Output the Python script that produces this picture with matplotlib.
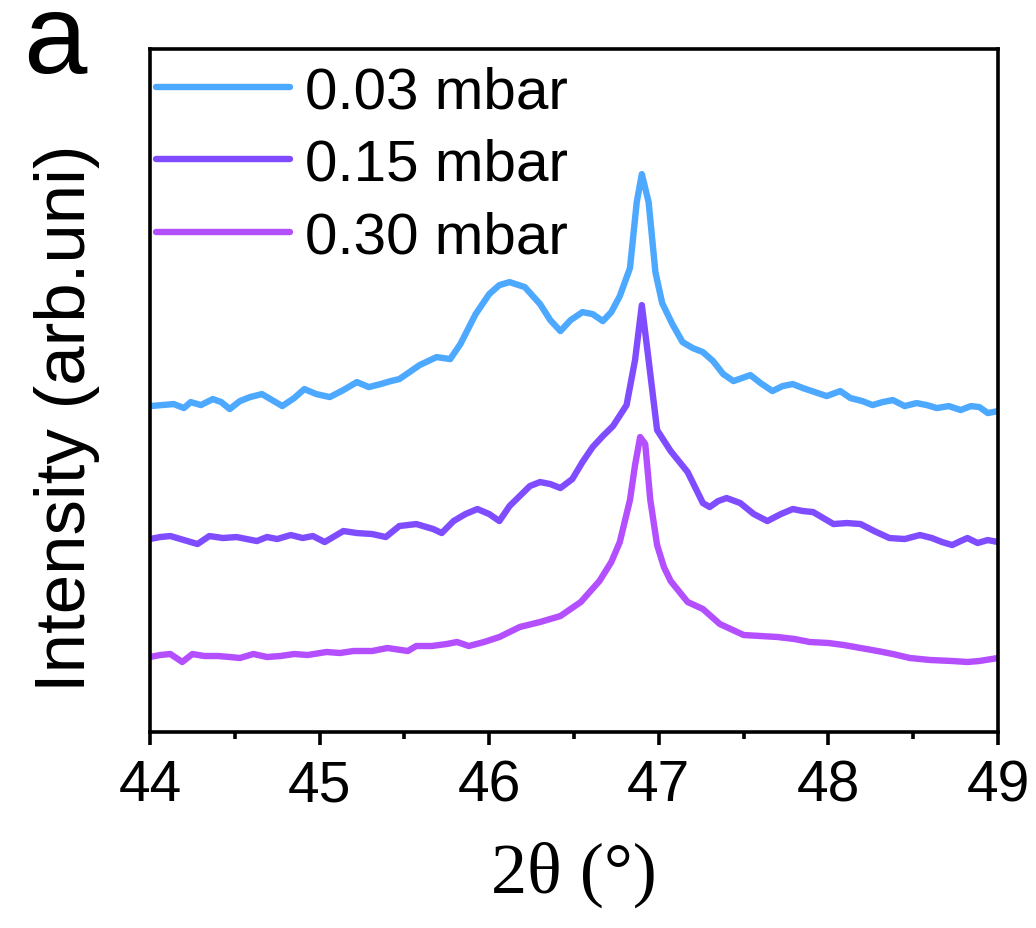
import numpy as np
import matplotlib
matplotlib.use('Agg')
import matplotlib.pyplot as plt
from matplotlib.ticker import MultipleLocator

# 2theta (deg) e intensidad (u.a.)
x_003 = [44.00, 44.07, 44.14, 44.20, 44.24, 44.30, 44.37, 44.42, 44.47, 44.53, 44.59, 44.66, 44.72, 44.78,
         44.85, 44.91, 44.98, 45.06, 45.14, 45.22, 45.29, 45.36, 45.42, 45.47, 45.53, 45.59, 45.69, 45.77,
         45.83, 45.92, 46.00, 46.06, 46.12, 46.21, 46.30, 46.36, 46.42, 46.48, 46.55, 46.61, 46.67, 46.72,
         46.77, 46.83, 46.87, 46.90, 46.94, 46.98, 47.02, 47.08, 47.14, 47.20, 47.26, 47.32, 47.38, 47.44,
         47.54, 47.60, 47.67, 47.73, 47.79, 47.85, 47.92, 47.99, 48.07, 48.13, 48.20, 48.26, 48.32, 48.38,
         48.45, 48.52, 48.58, 48.64, 48.71, 48.78, 48.84, 48.89, 48.94, 49.00]
y_003 = [326, 327, 328, 324, 330, 327, 333, 330, 323, 331, 335, 338, 332, 326,
         334, 343, 338, 335, 342, 350, 345, 348, 351, 353, 360, 367, 375, 373,
         388, 418, 438, 447, 450, 445, 428, 412, 401, 412, 420, 418, 411, 420,
         436, 464, 530, 558, 530, 460, 429, 408, 390, 384, 380, 371, 358, 351,
         357, 349, 341, 346, 348, 344, 340, 336, 341, 334, 331, 327, 330, 332,
         326, 329, 327, 324, 326, 322, 326, 325, 319, 321]

x_015 = [44.00, 44.06, 44.12, 44.20, 44.28, 44.35, 44.43, 44.51, 44.57, 44.63, 44.69, 44.75, 44.83, 44.90,
         44.96, 45.03, 45.09, 45.14, 45.22, 45.31, 45.39, 45.47, 45.57, 45.67, 45.72, 45.79, 45.86, 45.93,
         46.00, 46.06, 46.12, 46.18, 46.24, 46.30, 46.36, 46.42, 46.49, 46.55, 46.61, 46.67, 46.73, 46.81,
         46.86, 46.90, 46.94, 46.99, 47.07, 47.17, 47.26, 47.30, 47.35, 47.40, 47.48, 47.56, 47.64, 47.72,
         47.79, 47.85, 47.91, 47.97, 48.03, 48.11, 48.19, 48.27, 48.36, 48.45, 48.54, 48.61, 48.67, 48.73,
         48.78, 48.82, 48.88, 48.94, 49.00]
y_015 = [193, 195, 196, 192, 188, 196, 194, 195, 193, 191, 195, 193, 197, 194,
         196, 190, 196, 201, 199, 198, 195, 206, 208, 203, 199, 211, 218, 223,
         218, 211, 226, 236, 246, 250, 248, 244, 253, 270, 285, 296, 306, 327,
         372, 427, 372, 302, 281, 260, 229, 225, 231, 234, 229, 218, 211, 218,
         223, 221, 220, 214, 208, 209, 208, 201, 194, 193, 197, 194, 190, 187,
         191, 194, 189, 192, 190]

x_030 = [44.00, 44.06, 44.12, 44.19, 44.25, 44.32, 44.40, 44.47, 44.53, 44.61, 44.69, 44.77, 44.85, 44.93,
         45.04, 45.12, 45.20, 45.31, 45.40, 45.52, 45.57, 45.66, 45.75, 45.81, 45.88, 45.97, 46.06, 46.18,
         46.30, 46.42, 46.54, 46.65, 46.72, 46.77, 46.83, 46.86, 46.89, 46.92, 46.95, 46.99, 47.03, 47.07,
         47.17, 47.26, 47.36, 47.50, 47.60, 47.70, 47.80, 47.89, 48.00, 48.09, 48.19, 48.29, 48.38, 48.48,
         48.60, 48.73, 48.82, 48.89, 49.00]
y_030 = [75, 77, 78, 70, 78, 76, 76, 75, 74, 78, 75, 76, 78, 77,
         80, 79, 81, 81, 84, 81, 86, 86, 88, 90, 86, 90, 95, 105,
         110, 116, 130, 151, 170, 190, 232, 267, 295, 288, 232, 187, 165, 151,
         130, 123, 108, 97, 96, 95, 93, 90, 89, 87, 84, 81, 78, 74,
         72, 71, 70, 71, 74]

series = [(x_003, y_003, '0.03 mbar', '#4da8ff'),
          (x_015, y_015, '0.15 mbar', '#7f4dff'),
          (x_030, y_030, '0.30 mbar', '#b44fff')]

plt.rcParams['font.family'] = ['Liberation Sans', 'DejaVu Sans']

fig = plt.figure(figsize=(10.36, 9.29), dpi=100)
ax = fig.add_axes([0.1448, 0.211, 0.8185, 0.735])

for xs, ys, lab, col in series:
    ax.plot(xs, ys, color=col, lw=4.6, label=lab, solid_capstyle='round', solid_joinstyle='round')

ax.set_xlim(44, 49)
ax.set_ylim(0, 683)
ax.xaxis.set_major_locator(MultipleLocator(1))
ax.xaxis.set_minor_locator(MultipleLocator(0.5))
ax.set_yticks([])
for s in ax.spines.values():
    s.set_linewidth(2.6)
ax.tick_params(axis='x', which='major', direction='out', length=9, width=2.6, labelsize=41, pad=10)
ax.tick_params(axis='x', which='minor', direction='out', length=5, width=2.6)

ax.set_xlabel('2θ (°)', family=['Liberation Serif', 'DejaVu Serif'], fontsize=52, labelpad=20)
ax.set_ylabel('Intensity (arb.uni)', fontsize=51)
ax.yaxis.set_label_coords(-0.059, 0.461)

leg = ax.legend(loc='upper left', bbox_to_anchor=(0.0, 0.985), frameon=False, fontsize=42,
                handlelength=2.3, handletextpad=0.25, labelspacing=0.32, borderaxespad=0.0,
                borderpad=0.1)

fig.text(0.022, 0.921, 'a', fontsize=82)

plt.savefig('out.png', dpi=100)
